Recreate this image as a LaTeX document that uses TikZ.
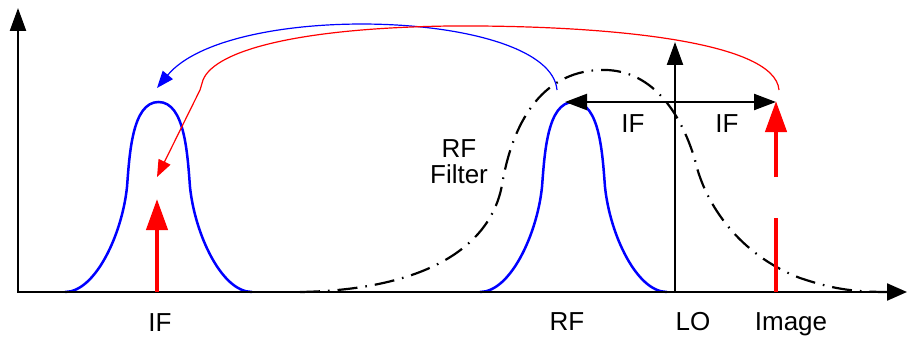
\documentclass[tikz,border=0pt]{standalone}
\usepackage{fontspec}
\setmainfont{Liberation Sans}
\usetikzlibrary{arrows.meta}
\begin{document}
\begin{tikzpicture}[x=1pt,y=-1pt,
  axisline/.style={line width=2.3pt},
  blacktip/.style={-{Triangle[length=23pt,width=16pt]}},
  iftip/.style={-{Triangle[length=22pt,width=16pt]}},
  peakline/.style={blue, line width=2.5pt},
  bigred/.style={red, line width=4.3pt},
  redtip/.style={-{Triangle[length=31pt,width=21pt]}},
  filterline/.style={line width=2.2pt, dash pattern=on 20pt off 8pt on 1.6pt off 8pt},
  thinarc/.style={line width=1.2pt},
  arctip/.style={-{Triangle[length=17pt,width=13pt]}},
  lab/.style={font=\fontsize{26}{26.6}\selectfont, inner sep=0pt, anchor=base},
]
\useasboundingbox (0,0) rectangle (907,337);

\coordinate (origin) at (18,292);
\coordinate (ytip) at (18,8);
\coordinate (xtip) at (907,292);
\coordinate (lo) at (675,292);
\coordinate (lotip) at (675,42);
\coordinate (mid) at (675,102);
\coordinate (ifl) at (565,102);
\coordinate (ifr) at (776,102);
\coordinate (ifbase) at (157,292);
\coordinate (iftop) at (157,199);
\coordinate (imbase) at (776,292);
\coordinate (imgapa) at (776,218);
\coordinate (imgapb) at (776,177);
\coordinate (imtip) at (776,101);
\coordinate (bstart) at (557,90);
\coordinate (bend) at (157,88);
\coordinate (rstart) at (779,90);
\coordinate (rtop) at (450,26);
\coordinate (rkink) at (203,80);
\coordinate (rkinkb) at (200,90);
\coordinate (rend) at (157,177);

% RF filter
\draw[filterline] (300,292) .. controls (420,290) and (490,250) .. (502,185)
  .. controls (512,125) and (540,72) .. (600,70)
  .. controls (650,68) and (680,110) .. (695,160)
  .. controls (705,205) and (740,255) .. (800,278)
  .. controls (830,288) and (850,292) .. (888,292);

% IF peak and RF peak (same shape)
\foreach \dx in {0,415}{
\draw[peakline, xshift=\dx pt] (65,292) .. controls (95,292) and (122,235) .. (127,187)
  .. controls (129.5,155) and (132,102) .. (158.5,102)
  .. controls (185,102) and (187.5,155) .. (190,187)
  .. controls (195,235) and (222,292) .. (252,292);
}

% axes
\draw[axisline, {Triangle[length=23pt,width=16pt]}-{Triangle[length=20pt,width=17pt]}] (ytip) -- (origin) -- (xtip);
\draw[axisline, blacktip] (lo) -- (lotip);
\draw[axisline, iftip] (mid) -- (ifl);
\draw[axisline, iftip] (mid) -- (ifr);

% red signal arrows
\draw[bigred, redtip] (ifbase) -- (iftop);
\draw[bigred] (imbase) -- (imgapa);
\draw[bigred, redtip] (imgapb) -- (imtip);

% arcs
\draw[thinarc, blue, arctip] (bstart) .. controls (550,10) and (230,0) .. (bend);
\draw[thinarc, red, arctip] (rstart) .. controls (775,40) and (600,25) .. (rtop)
  .. controls (300,28) and (215,50) .. (rkink) .. controls (201,85) .. (rkinkb) -- (rend);

% labels
\node[lab] (lif) at (160,331) {IF};
\node[lab] (lrf) at (567,330) {RF};
\node[lab] (llo) at (693,330) {LO};
\node[lab] (limage) at (791,330) {Image};
\node[lab] (lifa) at (633,132) {IF};
\node[lab] (lifb) at (727,132) {IF};
\node[lab, anchor=north, align=center] (lfilter) at (459,139) {RF\\Filter};
\end{tikzpicture}
\end{document}
